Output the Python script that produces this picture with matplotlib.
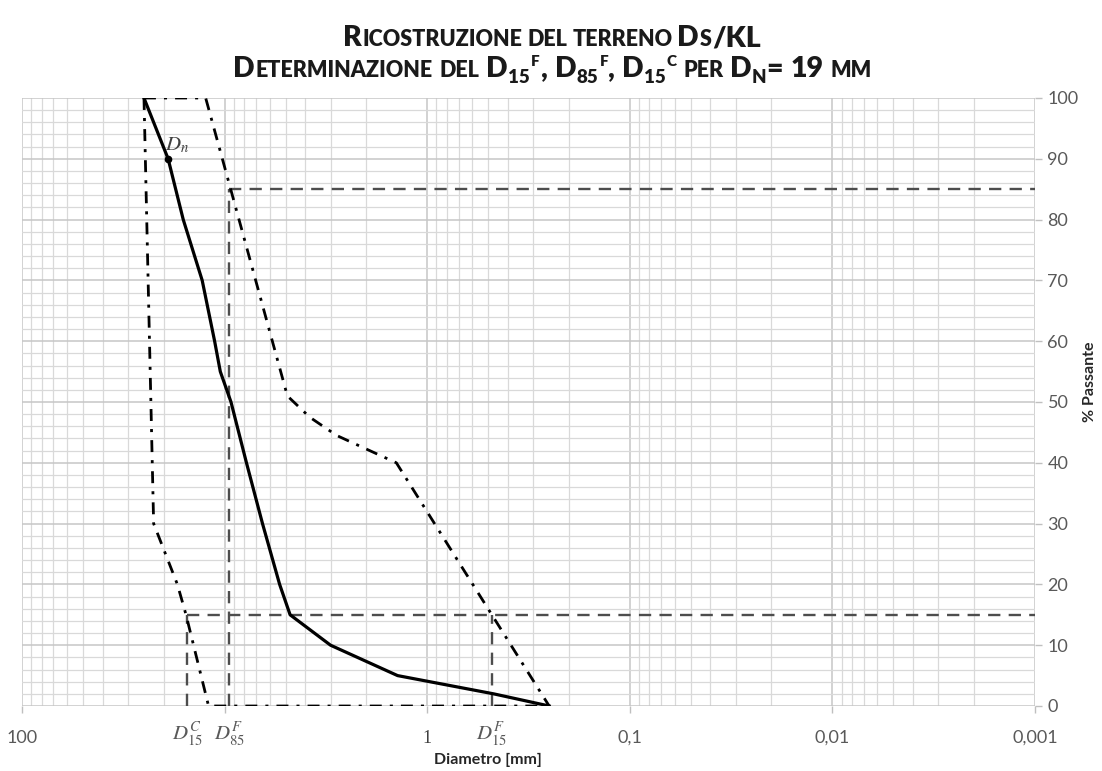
import matplotlib
matplotlib.use("Agg")
import matplotlib.pyplot as plt
from matplotlib.ticker import FixedLocator, LogLocator, MultipleLocator, NullFormatter, FixedFormatter
from matplotlib.transforms import IdentityTransform, blended_transform_factory

# ---------------- data ----------------
soil_d = [25, 19, 16, 12.9, 11.2, 10.5, 9.3, 7.8, 6.5, 5.35, 4.75, 3.0, 1.4, 0.47, 0.25]
soil_p = [100, 90, 80, 70, 60, 55, 50, 40, 30, 20, 15, 10, 5, 2, 0]

coarse_d = [25, 22.4, 17.1, 15.5, 12.0, 0.25]
coarse_p = [100, 30, 20, 15, 0, 0]

fine_d = [25, 12.4, 4.9, 3.8, 2.8, 1.42, 0.25]
fine_p = [100, 100, 51, 47.5, 44.5, 40, 0]

D15C = 15.3
D85F = 9.5
D15F = 0.48
DN = 19
DN_P = 90

x_major = [100, 10, 1, 0.1, 0.01, 0.001]
x_major_labels = ["100", "", "1", "0,1", "0,01", "0,001"]
y_ticks = [0, 10, 20, 30, 40, 50, 60, 70, 80, 90, 100]

# ---------------- figure ----------------
W, H = 1102, 771
fig = plt.figure(figsize=(W / 100, H / 100), dpi=100)
ax = fig.add_axes([22 / W, 65 / H, 1013 / W, 608 / H])
ax.set_xscale("log")
ax.set_xlim(100, 0.001)
ax.set_ylim(0, 100)

for s in ax.spines.values():
    s.set_visible(False)

ax.xaxis.set_major_locator(FixedLocator(x_major))
ax.xaxis.set_major_formatter(FixedFormatter(x_major_labels))
ax.xaxis.set_minor_locator(LogLocator(base=10, subs=[2, 3, 4, 5, 6, 7, 8, 9], numticks=20))
ax.xaxis.set_minor_formatter(NullFormatter())
ax.yaxis.set_major_locator(FixedLocator(y_ticks))
ax.yaxis.set_minor_locator(MultipleLocator(2))
ax.yaxis.tick_right()
ax.yaxis.set_label_position("right")

ax.grid(which="major", color="#c6c6c6", lw=1.1, zorder=0)
ax.grid(which="minor", color="#d9d9d9", lw=0.9, zorder=0)
ax.set_axisbelow(True)

tick_col = "#595959"
ax.tick_params(axis="x", which="major", direction="out", length=5, width=1,
               color="#bfbfbf", pad=12, labelsize=13, labelcolor=tick_col)
ax.tick_params(axis="y", which="major", direction="out", length=5, width=1,
               color="#bfbfbf", pad=4, labelsize=13, labelcolor=tick_col)
ax.tick_params(which="minor", length=0)
for lab in ax.get_xticklabels() + ax.get_yticklabels():
    lab.set_fontfamily("Lato")
ax.get_xticklabels()[2].set_fontfamily("Liberation Serif")
ax.get_xticklabels()[2].set_color("#404040")

# ---------------- curves ----------------
dd = (4.3, 2.9, 1.1, 2.9)
ax.plot(coarse_d, coarse_p, color="black", lw=2.0, dashes=dd, zorder=3)
ax.plot(fine_d, fine_p, color="black", lw=2.0, dashes=dd, zorder=3)
ax.plot(soil_d, soil_p, color="black", lw=2.3, zorder=4)
ax.plot([DN], [DN_P], "o", color="black", ms=4.5, zorder=5)

dc = "#4d4d4d"
ds = (5.2, 3.5)
ax.plot([D85F, 0.001], [85, 85], color=dc, lw=1.7, dashes=ds, zorder=2)
ax.plot([D15C, 0.001], [15, 15], color=dc, lw=1.7, dashes=ds, zorder=2)
ax.plot([D15C, D15C], [0, 15], color=dc, lw=1.7, dashes=ds, zorder=2)
ax.plot([D85F, D85F], [0, 85], color=dc, lw=1.7, dashes=ds, zorder=2)
ax.plot([D15F, D15F], [0, 15], color=dc, lw=1.7, dashes=ds, zorder=2)

plt.rcParams["mathtext.fontset"] = "stix"
ax.annotate(r"$D_n$", (DN, DN_P), xytext=(-2, 3), textcoords="offset points",
            ha="left", va="bottom", fontsize=15, color="#404040")

trans = blended_transform_factory(ax.transData, ax.transAxes)
for xv, lab in [(D15C, r"$D_{15}^{C}$"), (D85F, r"$D_{85}^{F}$"), (D15F, r"$D_{15}^{F}$")]:
    ax.text(xv, -0.048, lab, transform=trans, ha="center", va="center",
            fontsize=15, color=tick_col)

fig.text(488 / W, 1 - 760 / H, "Diametro [mm]", ha="center", va="center",
         fontsize=11.5, fontweight="bold", family="Lato", color="#262626")
fig.text(1090 / W, 1 - 382 / H, "% Passante", ha="center", va="center", rotation=90,
         fontsize=11.5, fontweight="bold", family="Lato", color="#262626")

# ---------------- small-caps title ----------------
renderer = fig.canvas.get_renderer()
TF = "Lato"
L, S, SUB, SUP = 20.5, 15.5, 13.5, 11


def draw_line(segs, base_y, cx):
    texts = []
    widths = []
    for txt, size, dy, gap in segs:
        t = fig.text(0, 0, txt, transform=IdentityTransform(), ha="left", va="baseline",
                     fontsize=size, fontweight="heavy", family=TF, color="#1a1a1a")
        texts.append(t)
        widths.append(t.get_window_extent(renderer).width)
    total = sum(w + g for w, (_, _, _, g) in zip(widths, segs)) - segs[-1][3]
    x = cx - total / 2
    for t, w, (txt, size, dy, gap) in zip(texts, widths, segs):
        t.set_position((x, base_y + dy))
        x += w + gap


sp = 7
sp1 = 5
line1 = [("R", L, 0, 0.5), ("ICOSTRUZIONE", S, 0, sp1), ("DEL", S, 0, sp1),
         ("TERRENO", S, 0, sp1), ("D", L, 0, 0.5), ("S", S, 0, 0.5), ("/KL", L, 0, 0)]
line2 = [("D", L, 0, 1), ("ETERMINAZIONE", S, 0, sp), ("DEL", S, 0, sp),
         ("D", L, 0, 0), ("15", SUB, -6, 1), ("F", SUP, 11, 2), (",", L, 0, sp),
         ("D", L, 0, 0), ("85", SUB, -6, 1), ("F", SUP, 11, 0), (",", L, 0, sp),
         ("D", L, 0, 0), ("15", SUB, -6, 1), ("C", SUP, 11, sp), ("PER", S, 0, sp),
         ("D", L, 0, 0), ("N", SUB, -6, 0), ("=", L, 0, sp), ("19", L, 0, sp), ("MM", S, 0, 0)]
draw_line(line1, H - 46, 552)
draw_line(line2, H - 77, 552)

fig.savefig("out.png", dpi=100)
